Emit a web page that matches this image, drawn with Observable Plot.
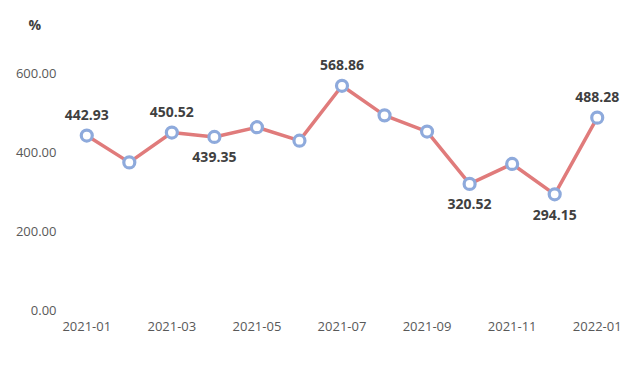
<!DOCTYPE html>
<html>
<head>
<meta charset="utf-8">
<script src="https://cdn.jsdelivr.net/npm/d3@7"></script>
<script src="https://cdn.jsdelivr.net/npm/@observablehq/plot@0.6"></script>
<style>
  body { margin: 0; background: #fff; }
  #chart svg { display: block; }
</style>
</head>
<body>
<div id="chart"></div>
<script>
const months = ["2021-01","2021-02","2021-03","2021-04","2021-05","2021-06","2021-07","2021-08","2021-09","2021-10","2021-11","2021-12","2022-01"];
const values = [442.93, 375, 450.52, 439.35, 464, 430, 568.86, 494, 453, 320.52, 371, 294.15, 488.28];
const labelAbove = ["2021-01","2021-03","2021-07","2022-01"];
const labelBelow = ["2021-04","2021-10","2021-12"];
const xTickLabels = ["2021-01","2021-03","2021-05","2021-07","2021-09","2021-11","2022-01"];
const yTicks = [0, 200, 400, 600];
const unitLabel = "%";

const data = months.map((m, i) => ({month: m, value: values[i]}));
const font = "'Open Sans', 'Noto Sans', sans-serif";

const chart = Plot.plot({
  width: 640,
  height: 369,
  marginLeft: 65,
  marginRight: 22,
  marginTop: 73,
  marginBottom: 59,
  style: {fontFamily: font, fontSize: "13px", color: "#595959", background: "#fff"},
  x: {type: "point", domain: months, padding: 0.5, round: false, label: null},
  y: {domain: [0, 600], label: null},
  marks: [
    Plot.axisY({ticks: yTicks, tickFormat: d => d.toFixed(2), tickSize: 0, tickPadding: 9, fill: "#595959", fontSize: 13}),
    Plot.axisX({ticks: xTickLabels, tickSize: 0, tickPadding: 11, fill: "#595959", fontSize: 13}),
    Plot.line(data, {x: "month", y: "value", stroke: "#666", strokeOpacity: 0.7, strokeWidth: 4.5, dx: 2.5, dy: 3.5, ariaLabel: "shadow"}),
    Plot.line(data, {x: "month", y: "value", stroke: "#e07b7b", strokeWidth: 3.5}),
    Plot.dot(data, {x: "month", y: "value", r: 5.5, fill: "#fff", stroke: "#8eaadc", strokeWidth: 3.2}),
    Plot.text(data.filter(d => labelAbove.includes(d.month)), {x: "month", y: "value", text: d => d.value.toFixed(2), dy: -20, fontWeight: "bold", fontSize: 14, fill: "#404040"}),
    Plot.text(data.filter(d => labelBelow.includes(d.month)), {x: "month", y: "value", text: d => d.value.toFixed(2), dy: 21, fontWeight: "bold", fontSize: 14, fill: "#404040"}),
    Plot.text([unitLabel], {text: d => d, frameAnchor: "top-left", dx: -37, dy: -53, fontWeight: "bold", fontSize: 14, fill: "#404040"})
  ]
});
d3.select(chart).select('g[aria-label="shadow"]').style("filter", "blur(1.5px)");
document.getElementById("chart").appendChild(chart);
</script>
</body>
</html>
